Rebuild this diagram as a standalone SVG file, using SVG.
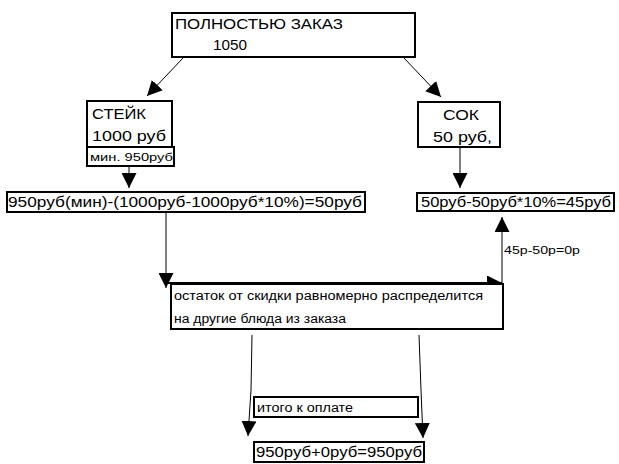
<svg xmlns="http://www.w3.org/2000/svg" width="619" height="464" viewBox="0 0 619 464">
  <style>
    .box { fill: #fff; stroke: #000; stroke-width: 2; }
    .ln { fill: none; stroke: #000; stroke-width: 1; }
    .lnh { fill: none; stroke: #000; stroke-width: 2; }
    text { font-family: "Liberation Sans", Arial, sans-serif; fill: #000; }
    .t15 { font-size: 15px; }
    .t14 { font-size: 14px; }
    .t12 { font-size: 12px; }
    .t11 { font-size: 11px; }
  </style>
  <defs>
    <marker id="ah" viewBox="0 0 10 10" refX="10" refY="5" markerWidth="15" markerHeight="15" markerUnits="userSpaceOnUse" orient="auto">
      <path d="M0,0 L10,5 L0,10 Z" fill="#000"/>
    </marker>
  </defs>

  <rect width="619" height="464" fill="#fff"/>

  <g id="connectors">
    <line class="ln" x1="183" y1="58" x2="147" y2="96" marker-end="url(#ah)"/>
    <line class="ln" x1="404" y1="58" x2="441" y2="97" marker-end="url(#ah)"/>
    <line class="ln" x1="129" y1="166" x2="129" y2="188" marker-end="url(#ah)"/>
    <line class="ln" x1="460" y1="147" x2="460" y2="188" marker-end="url(#ah)"/>
    <line class="ln" x1="166" y1="212" x2="166" y2="288" marker-end="url(#ah)"/>
    <line class="lnh" x1="168" y1="283" x2="502" y2="283" marker-end="url(#ah)"/>
    <line class="ln" x1="502" y1="284" x2="502" y2="217" marker-end="url(#ah)"/>
    <text class="t11" x="504" y="254" textLength="76" lengthAdjust="spacingAndGlyphs">45р-50р=0р</text>
    <polyline class="ln" points="252,335 251,390 248,436" marker-end="url(#ah)"/>
    <polyline class="ln" points="419,335 421,390 423,438" marker-end="url(#ah)"/>
  </g>

  <g id="order-total">
    <rect class="box" x="172" y="13" width="243" height="44"/>
    <text class="t15" x="175" y="29" textLength="168" lengthAdjust="spacingAndGlyphs">ПОЛНОСТЬЮ ЗАКАЗ</text>
    <text class="t15" x="213" y="50" textLength="34" lengthAdjust="spacingAndGlyphs">1050</text>
  </g>

  <g id="steak">
    <rect class="box" x="87" y="101" width="85" height="46"/>
    <text class="t15" x="92" y="119" textLength="54" lengthAdjust="spacingAndGlyphs">СТЕЙК</text>
    <text class="t15" x="92" y="141" textLength="74" lengthAdjust="spacingAndGlyphs">1000 руб</text>
  </g>

  <g id="steak-min">
    <rect class="box" x="87" y="147" width="87" height="19"/>
    <text class="t11" x="90" y="161" textLength="83" lengthAdjust="spacingAndGlyphs">мин. 950руб</text>
  </g>

  <g id="juice">
    <rect class="box" x="418" y="102" width="82" height="45"/>
    <text class="t15" x="443" y="120" textLength="36" lengthAdjust="spacingAndGlyphs">СОК</text>
    <text class="t15" x="433" y="142" textLength="59" lengthAdjust="spacingAndGlyphs">50 руб,</text>
  </g>

  <g id="steak-calc">
    <rect class="box" x="7" y="192" width="358" height="20"/>
    <text class="t14" x="8" y="207" textLength="354" lengthAdjust="spacingAndGlyphs">950руб(мин)-(1000руб-1000руб*10%)=50руб</text>
  </g>

  <g id="juice-calc">
    <rect class="box" x="417" y="193" width="197" height="18"/>
    <text class="t14" x="421" y="207" textLength="190" lengthAdjust="spacingAndGlyphs">50руб-50руб*10%=45руб</text>
  </g>

  <g id="remainder">
    <rect class="box" x="171" y="284" width="332" height="45"/>
    <text class="t12" x="174" y="300" textLength="309" lengthAdjust="spacingAndGlyphs">остаток от скидки равномерно распределится</text>
    <text class="t12" x="174" y="323" textLength="172" lengthAdjust="spacingAndGlyphs">на другие блюда из заказа</text>
  </g>

  <g id="to-pay">
    <rect class="box" x="254" y="397" width="164" height="20"/>
    <text class="t12" x="257" y="412" textLength="96" lengthAdjust="spacingAndGlyphs">итого к оплате</text>
  </g>

  <g id="final-sum">
    <rect class="box" x="254" y="442" width="170" height="20"/>
    <text class="t14" x="256" y="457" textLength="166" lengthAdjust="spacingAndGlyphs">950руб+0руб=950руб</text>
  </g>
</svg>
